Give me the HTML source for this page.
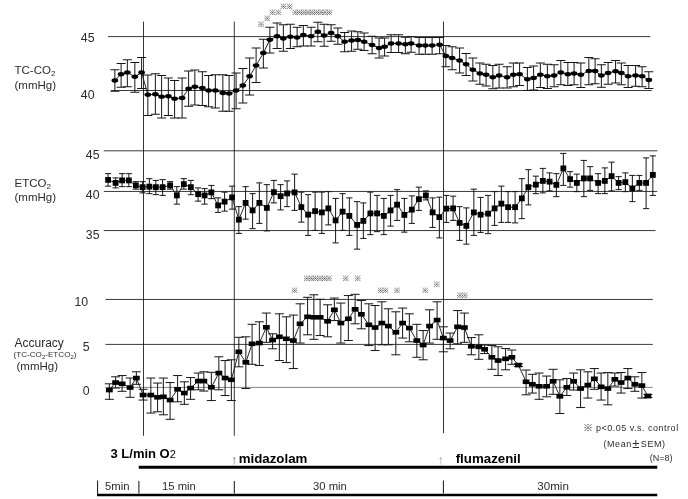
<!DOCTYPE html>
<html><head><meta charset="utf-8"><title>chart</title>
<style>html,body{margin:0;padding:0;background:#fff}svg{display:block}text{font-family:"Liberation Sans","Noto Sans CJK JP",sans-serif;fill:#2b2b2b}.b{font-weight:bold;fill:#000}.j{font-family:"Liberation Sans","IPAGothic","Noto Sans CJK JP",sans-serif}.st{font-family:"Liberation Sans","IPAGothic","Noto Sans CJK JP",sans-serif;fill:#3a3a3a}</style></head><body>
<svg width="688" height="499" viewBox="0 0 688 499">
<rect width="688" height="499" fill="#fff"/>
<line x1="108" y1="36.6" x2="650.25" y2="36.6" stroke="#3a3a3a" stroke-width="1"/>
<line x1="111" y1="90.5" x2="651.75" y2="90.5" stroke="#3a3a3a" stroke-width="1"/>
<line x1="103.75" y1="150.8" x2="657.25" y2="150.8" stroke="#3a3a3a" stroke-width="1"/>
<line x1="103.75" y1="191.45" x2="657.25" y2="191.45" stroke="#3a3a3a" stroke-width="1"/>
<line x1="103.75" y1="230.55" x2="655.5" y2="230.55" stroke="#3a3a3a" stroke-width="1"/>
<line x1="105.5" y1="299.45" x2="652.75" y2="299.45" stroke="#3a3a3a" stroke-width="1"/>
<line x1="105.5" y1="344.4" x2="652.75" y2="344.4" stroke="#3a3a3a" stroke-width="1"/>
<line x1="105.5" y1="387.4" x2="652.75" y2="387.4" stroke="#666" stroke-width="0.8"/>
<line x1="143.5" y1="21.6" x2="143.5" y2="435.75" stroke="#111" stroke-width="0.85"/>
<line x1="234.3" y1="21.6" x2="234.3" y2="435.75" stroke="#111" stroke-width="0.85"/>
<line x1="443.5" y1="21.6" x2="443.5" y2="433.25" stroke="#111" stroke-width="0.85"/>
<polyline points="114.85,80.50 121.10,74.25 127.35,72.50 134.85,76.75 141.60,72.50 147.85,94.75 155.35,94.25 161.60,96.75 168.35,96.25 174.60,98.75 182.10,98.00 188.60,88.75 194.85,86.75 202.35,88.00 208.60,90.50 215.35,90.50 222.85,93.00 229.10,93.50 236.10,90.50 242.85,85.50 249.60,76.25 256.10,65.50 263.35,53.00 269.85,39.75 277.10,36.25 283.35,38.50 290.35,36.75 297.10,37.50 303.35,35.00 311.10,36.25 317.85,31.75 324.10,35.50 331.10,33.00 337.85,36.25 344.60,41.75 351.60,40.50 357.85,40.00 364.10,41.75 372.10,45.00 379.10,48.00 384.60,46.75 391.10,43.50 398.60,43.50 405.35,44.25 411.10,43.50 419.10,45.50 425.35,45.50 432.10,45.50 439.60,44.75 445.85,56.00 452.10,58.00 459.60,60.50 466.10,64.25 472.85,69.75 479.85,73.50 486.10,74.75 492.85,77.25 499.10,75.50 507.10,77.25 513.35,74.75 519.60,74.25 527.35,79.25 533.60,78.00 540.35,74.75 547.35,76.25 554.10,75.50 560.85,72.50 567.85,74.25 574.10,73.50 580.85,74.75 588.85,71.00 595.10,71.00 601.35,75.50 608.10,73.00 615.60,71.25 621.35,73.00 628.10,76.25 635.60,75.50 642.10,76.25 648.85,80.00" fill="none" stroke="#1a1a1a" stroke-width="0.95"/>
<path d="M114.85 69.75V91.25M110.35 69.75h9.0M110.35 91.25h9.0M121.10 63.50V87.25M116.60 63.50h9.0M116.60 87.25h9.0M127.35 59.75V86.75M122.85 59.75h9.0M122.85 86.75h9.0M134.85 62.50V92.25M130.35 62.50h9.0M130.35 92.25h9.0M141.60 57.50V88.50M137.10 57.50h9.0M137.10 88.50h9.0M147.85 75.00V115.50M143.35 75.00h9.0M143.35 115.50h9.0M155.35 73.75V114.25M150.85 73.75h9.0M150.85 114.25h9.0M161.60 75.50V118.00M157.10 75.50h9.0M157.10 118.00h9.0M168.35 78.00V115.50M163.85 78.00h9.0M163.85 115.50h9.0M174.60 80.50V118.00M170.10 80.50h9.0M170.10 118.00h9.0M182.10 78.00V118.00M177.60 78.00h9.0M177.60 118.00h9.0M188.60 71.00V106.25M184.10 71.00h9.0M184.10 106.25h9.0M194.85 70.00V105.00M190.35 70.00h9.0M190.35 105.00h9.0M202.35 71.75V105.50M197.85 71.75h9.0M197.85 105.50h9.0M208.60 75.50V106.75M204.10 75.50h9.0M204.10 106.75h9.0M215.35 74.75V108.00M210.85 74.75h9.0M210.85 108.00h9.0M222.85 74.75V111.25M218.35 74.75h9.0M218.35 111.25h9.0M229.10 75.50V111.25M224.60 75.50h9.0M224.60 111.25h9.0M236.10 73.00V108.75M231.60 73.00h9.0M231.60 108.75h9.0M242.85 68.50V103.00M238.35 68.50h9.0M238.35 103.00h9.0M249.60 58.00V95.00M245.10 58.00h9.0M245.10 95.00h9.0M256.10 48.00V82.50M251.60 48.00h9.0M251.60 82.50h9.0M263.35 39.25V68.00M258.85 39.25h9.0M258.85 68.00h9.0M269.85 27.25V53.00M265.35 27.25h9.0M265.35 53.00h9.0M277.10 23.00V48.50M272.60 23.00h9.0M272.60 48.50h9.0M283.35 24.75V51.25M278.85 24.75h9.0M278.85 51.25h9.0M290.35 24.25V48.50M285.85 24.25h9.0M285.85 48.50h9.0M297.10 27.25V46.75M292.60 27.25h9.0M292.60 46.75h9.0M303.35 25.50V46.00M298.85 25.50h9.0M298.85 46.00h9.0M311.10 27.25V46.00M306.60 27.25h9.0M306.60 46.00h9.0M317.85 22.25V41.75M313.35 22.25h9.0M313.35 41.75h9.0M324.10 24.25V46.25M319.60 24.25h9.0M319.60 46.25h9.0M331.10 24.75V41.25M326.60 24.75h9.0M326.60 41.25h9.0M337.85 28.00V44.25M333.35 28.00h9.0M333.35 44.25h9.0M344.60 32.50V51.75M340.10 32.50h9.0M340.10 51.75h9.0M351.60 31.00V51.25M347.10 31.00h9.0M347.10 51.25h9.0M357.85 31.75V49.25M353.35 31.75h9.0M353.35 49.25h9.0M364.10 33.00V50.50M359.60 33.00h9.0M359.60 50.50h9.0M372.10 36.25V53.75M367.60 36.25h9.0M367.60 53.75h9.0M379.10 38.00V58.00M374.60 38.00h9.0M374.60 58.00h9.0M384.60 38.00V56.00M380.10 38.00h9.0M380.10 56.00h9.0M391.10 34.75V52.50M386.60 34.75h9.0M386.60 52.50h9.0M398.60 34.75V52.50M394.10 34.75h9.0M394.10 52.50h9.0M405.35 37.25V53.75M400.85 37.25h9.0M400.85 53.75h9.0M411.10 36.75V52.25M406.60 36.75h9.0M406.60 52.25h9.0M419.10 37.50V54.25M414.60 37.50h9.0M414.60 54.25h9.0M425.35 37.50V54.25M420.85 37.50h9.0M420.85 54.25h9.0M432.10 37.50V54.25M427.60 37.50h9.0M427.60 54.25h9.0M439.60 37.50V53.75M435.10 37.50h9.0M435.10 53.75h9.0M445.85 45.50V66.75M441.35 45.50h9.0M441.35 66.75h9.0M452.10 46.75V69.75M447.60 46.75h9.0M447.60 69.75h9.0M459.60 48.00V73.00M455.10 48.00h9.0M455.10 73.00h9.0M466.10 53.50V75.50M461.60 53.50h9.0M461.60 75.50h9.0M472.85 58.00V81.00M468.35 58.00h9.0M468.35 81.00h9.0M479.85 63.00V84.25M475.35 63.00h9.0M475.35 84.25h9.0M486.10 64.25V86.00M481.60 64.25h9.0M481.60 86.00h9.0M492.85 65.50V88.75M488.35 65.50h9.0M488.35 88.75h9.0M499.10 64.25V88.00M494.60 64.25h9.0M494.60 88.00h9.0M507.10 66.75V88.00M502.60 66.75h9.0M502.60 88.00h9.0M513.35 63.00V86.75M508.85 63.00h9.0M508.85 86.75h9.0M519.60 63.00V85.50M515.10 63.00h9.0M515.10 85.50h9.0M527.35 67.50V90.50M522.85 67.50h9.0M522.85 90.50h9.0M533.60 66.00V90.00M529.10 66.00h9.0M529.10 90.00h9.0M540.35 63.00V87.50M535.85 63.00h9.0M535.85 87.50h9.0M547.35 64.25V88.50M542.85 64.25h9.0M542.85 88.50h9.0M554.10 64.75V86.75M549.60 64.75h9.0M549.60 86.75h9.0M560.85 60.50V84.75M556.35 60.50h9.0M556.35 84.75h9.0M567.85 62.50V85.50M563.35 62.50h9.0M563.35 85.50h9.0M574.10 62.50V84.75M569.60 62.50h9.0M569.60 84.75h9.0M580.85 63.00V87.50M576.35 63.00h9.0M576.35 87.50h9.0M588.85 57.50V84.75M584.35 57.50h9.0M584.35 84.75h9.0M595.10 58.75V83.75M590.60 58.75h9.0M590.60 83.75h9.0M601.35 64.75V87.25M596.85 64.75h9.0M596.85 87.25h9.0M608.10 62.50V84.25M603.60 62.50h9.0M603.60 84.25h9.0M615.60 60.50V83.00M611.10 60.50h9.0M611.10 83.00h9.0M621.35 63.00V84.75M616.85 63.00h9.0M616.85 84.75h9.0M628.10 65.50V87.50M623.60 65.50h9.0M623.60 87.50h9.0M635.60 65.50V86.25M631.10 65.50h9.0M631.10 86.25h9.0M642.10 66.75V86.75M637.60 66.75h9.0M637.60 86.75h9.0M648.85 71.75V88.50M644.35 71.75h9.0M644.35 88.50h9.0" fill="none" stroke="#151515" stroke-width="1"/>
<ellipse cx="114.85" cy="80.50" rx="3.35" ry="2.15" fill="#000"/>
<ellipse cx="121.10" cy="74.25" rx="3.35" ry="2.15" fill="#000"/>
<ellipse cx="127.35" cy="72.50" rx="3.35" ry="2.15" fill="#000"/>
<ellipse cx="134.85" cy="76.75" rx="3.35" ry="2.15" fill="#000"/>
<ellipse cx="141.60" cy="72.50" rx="3.35" ry="2.15" fill="#000"/>
<ellipse cx="147.85" cy="94.75" rx="3.35" ry="2.15" fill="#000"/>
<ellipse cx="155.35" cy="94.25" rx="3.35" ry="2.15" fill="#000"/>
<ellipse cx="161.60" cy="96.75" rx="3.35" ry="2.15" fill="#000"/>
<ellipse cx="168.35" cy="96.25" rx="3.35" ry="2.15" fill="#000"/>
<ellipse cx="174.60" cy="98.75" rx="3.35" ry="2.15" fill="#000"/>
<ellipse cx="182.10" cy="98.00" rx="3.35" ry="2.15" fill="#000"/>
<ellipse cx="188.60" cy="88.75" rx="3.35" ry="2.15" fill="#000"/>
<ellipse cx="194.85" cy="86.75" rx="3.35" ry="2.15" fill="#000"/>
<ellipse cx="202.35" cy="88.00" rx="3.35" ry="2.15" fill="#000"/>
<ellipse cx="208.60" cy="90.50" rx="3.35" ry="2.15" fill="#000"/>
<ellipse cx="215.35" cy="90.50" rx="3.35" ry="2.15" fill="#000"/>
<ellipse cx="222.85" cy="93.00" rx="3.35" ry="2.15" fill="#000"/>
<ellipse cx="229.10" cy="93.50" rx="3.35" ry="2.15" fill="#000"/>
<ellipse cx="236.10" cy="90.50" rx="3.35" ry="2.15" fill="#000"/>
<ellipse cx="242.85" cy="85.50" rx="3.35" ry="2.15" fill="#000"/>
<ellipse cx="249.60" cy="76.25" rx="3.35" ry="2.15" fill="#000"/>
<ellipse cx="256.10" cy="65.50" rx="3.35" ry="2.15" fill="#000"/>
<ellipse cx="263.35" cy="53.00" rx="3.35" ry="2.15" fill="#000"/>
<ellipse cx="269.85" cy="39.75" rx="3.35" ry="2.15" fill="#000"/>
<ellipse cx="277.10" cy="36.25" rx="3.35" ry="2.15" fill="#000"/>
<ellipse cx="283.35" cy="38.50" rx="3.35" ry="2.15" fill="#000"/>
<ellipse cx="290.35" cy="36.75" rx="3.35" ry="2.15" fill="#000"/>
<ellipse cx="297.10" cy="37.50" rx="3.35" ry="2.15" fill="#000"/>
<ellipse cx="303.35" cy="35.00" rx="3.35" ry="2.15" fill="#000"/>
<ellipse cx="311.10" cy="36.25" rx="3.35" ry="2.15" fill="#000"/>
<ellipse cx="317.85" cy="31.75" rx="3.35" ry="2.15" fill="#000"/>
<ellipse cx="324.10" cy="35.50" rx="3.35" ry="2.15" fill="#000"/>
<ellipse cx="331.10" cy="33.00" rx="3.35" ry="2.15" fill="#000"/>
<ellipse cx="337.85" cy="36.25" rx="3.35" ry="2.15" fill="#000"/>
<ellipse cx="344.60" cy="41.75" rx="3.35" ry="2.15" fill="#000"/>
<ellipse cx="351.60" cy="40.50" rx="3.35" ry="2.15" fill="#000"/>
<ellipse cx="357.85" cy="40.00" rx="3.35" ry="2.15" fill="#000"/>
<ellipse cx="364.10" cy="41.75" rx="3.35" ry="2.15" fill="#000"/>
<ellipse cx="372.10" cy="45.00" rx="3.35" ry="2.15" fill="#000"/>
<ellipse cx="379.10" cy="48.00" rx="3.35" ry="2.15" fill="#000"/>
<ellipse cx="384.60" cy="46.75" rx="3.35" ry="2.15" fill="#000"/>
<ellipse cx="391.10" cy="43.50" rx="3.35" ry="2.15" fill="#000"/>
<ellipse cx="398.60" cy="43.50" rx="3.35" ry="2.15" fill="#000"/>
<ellipse cx="405.35" cy="44.25" rx="3.35" ry="2.15" fill="#000"/>
<ellipse cx="411.10" cy="43.50" rx="3.35" ry="2.15" fill="#000"/>
<ellipse cx="419.10" cy="45.50" rx="3.35" ry="2.15" fill="#000"/>
<ellipse cx="425.35" cy="45.50" rx="3.35" ry="2.15" fill="#000"/>
<ellipse cx="432.10" cy="45.50" rx="3.35" ry="2.15" fill="#000"/>
<ellipse cx="439.60" cy="44.75" rx="3.35" ry="2.15" fill="#000"/>
<ellipse cx="445.85" cy="56.00" rx="3.35" ry="2.15" fill="#000"/>
<ellipse cx="452.10" cy="58.00" rx="3.35" ry="2.15" fill="#000"/>
<ellipse cx="459.60" cy="60.50" rx="3.35" ry="2.15" fill="#000"/>
<ellipse cx="466.10" cy="64.25" rx="3.35" ry="2.15" fill="#000"/>
<ellipse cx="472.85" cy="69.75" rx="3.35" ry="2.15" fill="#000"/>
<ellipse cx="479.85" cy="73.50" rx="3.35" ry="2.15" fill="#000"/>
<ellipse cx="486.10" cy="74.75" rx="3.35" ry="2.15" fill="#000"/>
<ellipse cx="492.85" cy="77.25" rx="3.35" ry="2.15" fill="#000"/>
<ellipse cx="499.10" cy="75.50" rx="3.35" ry="2.15" fill="#000"/>
<ellipse cx="507.10" cy="77.25" rx="3.35" ry="2.15" fill="#000"/>
<ellipse cx="513.35" cy="74.75" rx="3.35" ry="2.15" fill="#000"/>
<ellipse cx="519.60" cy="74.25" rx="3.35" ry="2.15" fill="#000"/>
<ellipse cx="527.35" cy="79.25" rx="3.35" ry="2.15" fill="#000"/>
<ellipse cx="533.60" cy="78.00" rx="3.35" ry="2.15" fill="#000"/>
<ellipse cx="540.35" cy="74.75" rx="3.35" ry="2.15" fill="#000"/>
<ellipse cx="547.35" cy="76.25" rx="3.35" ry="2.15" fill="#000"/>
<ellipse cx="554.10" cy="75.50" rx="3.35" ry="2.15" fill="#000"/>
<ellipse cx="560.85" cy="72.50" rx="3.35" ry="2.15" fill="#000"/>
<ellipse cx="567.85" cy="74.25" rx="3.35" ry="2.15" fill="#000"/>
<ellipse cx="574.10" cy="73.50" rx="3.35" ry="2.15" fill="#000"/>
<ellipse cx="580.85" cy="74.75" rx="3.35" ry="2.15" fill="#000"/>
<ellipse cx="588.85" cy="71.00" rx="3.35" ry="2.15" fill="#000"/>
<ellipse cx="595.10" cy="71.00" rx="3.35" ry="2.15" fill="#000"/>
<ellipse cx="601.35" cy="75.50" rx="3.35" ry="2.15" fill="#000"/>
<ellipse cx="608.10" cy="73.00" rx="3.35" ry="2.15" fill="#000"/>
<ellipse cx="615.60" cy="71.25" rx="3.35" ry="2.15" fill="#000"/>
<ellipse cx="621.35" cy="73.00" rx="3.35" ry="2.15" fill="#000"/>
<ellipse cx="628.10" cy="76.25" rx="3.35" ry="2.15" fill="#000"/>
<ellipse cx="635.60" cy="75.50" rx="3.35" ry="2.15" fill="#000"/>
<ellipse cx="642.10" cy="76.25" rx="3.35" ry="2.15" fill="#000"/>
<ellipse cx="648.85" cy="80.00" rx="3.35" ry="2.15" fill="#000"/>
<polyline points="108.10,179.90 115.60,182.90 122.10,180.40 128.85,180.40 135.85,185.40 142.60,187.15 149.35,186.65 155.85,187.15 162.60,187.15 170.10,185.40 176.85,195.40 183.85,184.15 190.85,187.15 198.10,194.15 204.60,195.40 211.35,192.40 218.10,205.40 224.60,201.65 232.10,197.40 238.85,219.65 245.60,202.90 252.60,210.40 259.35,202.90 266.85,207.90 273.85,192.15 280.60,196.15 287.10,193.40 294.60,192.40 301.35,207.15 308.10,214.65 315.10,211.15 321.85,212.40 328.35,208.40 335.60,220.40 342.60,211.65 349.35,215.90 357.10,224.90 363.35,220.90 370.35,213.40 377.10,213.40 383.85,215.90 390.60,210.40 397.10,204.65 404.35,214.90 411.85,209.65 418.85,199.15 425.85,195.40 432.60,212.40 439.35,217.15 446.35,208.65 453.10,208.40 459.60,222.90 466.35,225.90 473.85,212.40 480.60,214.65 488.10,213.65 494.60,208.40 501.35,203.65 508.10,207.15 515.10,207.15 521.85,198.40 528.35,187.15 535.85,184.65 542.85,180.90 549.60,181.65 556.35,184.90 563.35,168.40 570.10,179.15 576.85,182.90 583.85,178.40 590.10,178.40 598.10,182.90 604.85,180.90 611.60,176.15 618.60,182.90 625.35,182.15 632.35,188.40 639.35,182.90 646.10,182.90 652.85,174.90" fill="none" stroke="#1a1a1a" stroke-width="0.95"/>
<path d="M108.10 173.65V186.15M105.00 173.65h6.2M105.00 186.15h6.2M115.60 177.90V187.90M112.50 177.90h6.2M112.50 187.90h6.2M122.10 173.65V186.65M119.00 173.65h6.2M119.00 186.65h6.2M128.85 173.65V186.65M125.75 173.65h6.2M125.75 186.65h6.2M135.85 181.65V189.15M132.75 181.65h6.2M132.75 189.15h6.2M142.60 181.65V192.90M139.50 181.65h6.2M139.50 192.90h6.2M149.35 178.65V193.65M146.25 178.65h6.2M146.25 193.65h6.2M155.85 180.40V194.65M152.75 180.40h6.2M152.75 194.65h6.2M162.60 179.65V195.40M159.50 179.65h6.2M159.50 195.40h6.2M170.10 181.65V189.15M167.00 181.65h6.2M167.00 189.15h6.2M176.85 186.65V204.15M173.75 186.65h6.2M173.75 204.15h6.2M183.85 178.65V189.15M180.75 178.65h6.2M180.75 189.15h6.2M190.85 180.40V194.65M187.75 180.40h6.2M187.75 194.65h6.2M198.10 187.90V201.15M195.00 187.90h6.2M195.00 201.15h6.2M204.60 188.65V204.15M201.50 188.65h6.2M201.50 204.15h6.2M211.35 185.40V198.65M208.25 185.40h6.2M208.25 198.65h6.2M218.10 197.90V212.40M215.00 197.90h6.2M215.00 212.40h6.2M224.60 192.15V211.15M221.50 192.15h6.2M221.50 211.15h6.2M232.10 186.15V209.15M229.00 186.15h6.2M229.00 209.15h6.2M238.85 206.65V233.40M235.75 206.65h6.2M235.75 233.40h6.2M245.60 186.65V219.15M242.50 186.65h6.2M242.50 219.15h6.2M252.60 193.65V228.65M249.50 193.65h6.2M249.50 228.65h6.2M259.35 182.90V223.40M256.25 182.90h6.2M256.25 223.40h6.2M266.85 184.65V230.90M263.75 184.65h6.2M263.75 230.90h6.2M273.85 180.40V202.90M270.75 180.40h6.2M270.75 202.90h6.2M280.60 184.65V209.90M277.50 184.65h6.2M277.50 209.90h6.2M287.10 180.90V206.65M284.00 180.90h6.2M284.00 206.65h6.2M294.60 174.15V210.40M291.50 174.15h6.2M291.50 210.40h6.2M301.35 192.15V222.15M298.25 192.15h6.2M298.25 222.15h6.2M308.10 194.65V235.40M305.00 194.65h6.2M305.00 235.40h6.2M315.10 192.15V230.40M312.00 192.15h6.2M312.00 230.40h6.2M321.85 192.15V233.40M318.75 192.15h6.2M318.75 233.40h6.2M328.35 191.65V224.90M325.25 191.65h6.2M325.25 224.90h6.2M335.60 198.40V242.90M332.50 198.40h6.2M332.50 242.90h6.2M342.60 193.65V230.40M339.50 193.65h6.2M339.50 230.40h6.2M349.35 197.90V235.40M346.25 197.90h6.2M346.25 235.40h6.2M357.10 201.65V249.15M354.00 201.65h6.2M354.00 249.15h6.2M363.35 202.90V238.40M360.25 202.90h6.2M360.25 238.40h6.2M370.35 192.15V234.65M367.25 192.15h6.2M367.25 234.65h6.2M377.10 195.40V231.65M374.00 195.40h6.2M374.00 231.65h6.2M383.85 198.40V234.65M380.75 198.40h6.2M380.75 234.65h6.2M390.60 195.40V226.15M387.50 195.40h6.2M387.50 226.15h6.2M397.10 189.65V220.40M394.00 189.65h6.2M394.00 220.40h6.2M404.35 198.40V232.15M401.25 198.40h6.2M401.25 232.15h6.2M411.85 195.90V223.40M408.75 195.90h6.2M408.75 223.40h6.2M418.85 187.15V210.40M415.75 187.15h6.2M415.75 210.40h6.2M425.85 190.90V199.90M422.75 190.90h6.2M422.75 199.90h6.2M432.60 197.90V227.40M429.50 197.90h6.2M429.50 227.40h6.2M439.35 197.15V237.90M436.25 197.15h6.2M436.25 237.90h6.2M446.35 195.40V222.40M443.25 195.40h6.2M443.25 222.40h6.2M453.10 196.15V220.40M450.00 196.15h6.2M450.00 220.40h6.2M459.60 206.65V240.40M456.50 206.65h6.2M456.50 240.40h6.2M466.35 207.90V244.15M463.25 207.90h6.2M463.25 244.15h6.2M473.85 189.15V235.40M470.75 189.15h6.2M470.75 235.40h6.2M480.60 197.40V232.40M477.50 197.40h6.2M477.50 232.40h6.2M488.10 195.40V233.65M485.00 195.40h6.2M485.00 233.65h6.2M494.60 191.65V225.40M491.50 191.65h6.2M491.50 225.40h6.2M501.35 186.15V222.40M498.25 186.15h6.2M498.25 222.40h6.2M508.10 191.65V222.40M505.00 191.65h6.2M505.00 222.40h6.2M515.10 191.65V222.90M512.00 191.65h6.2M512.00 222.90h6.2M521.85 178.65V218.65M518.75 178.65h6.2M518.75 218.65h6.2M528.35 169.65V204.90M525.25 169.65h6.2M525.25 204.90h6.2M535.85 176.15V193.65M532.75 176.15h6.2M532.75 193.65h6.2M542.85 168.40V192.90M539.75 168.40h6.2M539.75 192.90h6.2M549.60 172.90V190.90M546.50 172.90h6.2M546.50 190.90h6.2M556.35 173.65V196.65M553.25 173.65h6.2M553.25 196.65h6.2M563.35 153.40V185.40M560.25 153.40h6.2M560.25 185.40h6.2M570.10 171.65V187.15M567.00 171.65h6.2M567.00 187.15h6.2M576.85 174.15V191.65M573.75 174.15h6.2M573.75 191.65h6.2M583.85 160.40V196.65M580.75 160.40h6.2M580.75 196.65h6.2M590.10 166.65V190.40M587.00 166.65h6.2M587.00 190.40h6.2M598.10 173.65V193.65M595.00 173.65h6.2M595.00 193.65h6.2M604.85 167.90V193.65M601.75 167.90h6.2M601.75 193.65h6.2M611.60 162.15V190.90M608.50 162.15h6.2M608.50 190.90h6.2M618.60 176.65V189.65M615.50 176.65h6.2M615.50 189.65h6.2M625.35 172.90V191.65M622.25 172.90h6.2M622.25 191.65h6.2M632.35 175.40V201.65M629.25 175.40h6.2M629.25 201.65h6.2M639.35 175.40V190.40M636.25 175.40h6.2M636.25 190.40h6.2M646.10 157.90V208.65M643.00 157.90h6.2M643.00 208.65h6.2M652.85 155.90V195.40M649.75 155.90h6.2M649.75 195.40h6.2" fill="none" stroke="#151515" stroke-width="1"/>
<rect x="105.20" y="177.00" width="5.8" height="5.8" fill="#000"/>
<rect x="112.70" y="180.00" width="5.8" height="5.8" fill="#000"/>
<rect x="119.20" y="177.50" width="5.8" height="5.8" fill="#000"/>
<rect x="125.95" y="177.50" width="5.8" height="5.8" fill="#000"/>
<rect x="132.95" y="182.50" width="5.8" height="5.8" fill="#000"/>
<rect x="139.70" y="184.25" width="5.8" height="5.8" fill="#000"/>
<rect x="146.45" y="183.75" width="5.8" height="5.8" fill="#000"/>
<rect x="152.95" y="184.25" width="5.8" height="5.8" fill="#000"/>
<rect x="159.70" y="184.25" width="5.8" height="5.8" fill="#000"/>
<rect x="167.20" y="182.50" width="5.8" height="5.8" fill="#000"/>
<rect x="173.95" y="192.50" width="5.8" height="5.8" fill="#000"/>
<rect x="180.95" y="181.25" width="5.8" height="5.8" fill="#000"/>
<rect x="187.95" y="184.25" width="5.8" height="5.8" fill="#000"/>
<rect x="195.20" y="191.25" width="5.8" height="5.8" fill="#000"/>
<rect x="201.70" y="192.50" width="5.8" height="5.8" fill="#000"/>
<rect x="208.45" y="189.50" width="5.8" height="5.8" fill="#000"/>
<rect x="215.20" y="202.50" width="5.8" height="5.8" fill="#000"/>
<rect x="221.70" y="198.75" width="5.8" height="5.8" fill="#000"/>
<rect x="229.20" y="194.50" width="5.8" height="5.8" fill="#000"/>
<rect x="235.95" y="216.75" width="5.8" height="5.8" fill="#000"/>
<rect x="242.70" y="200.00" width="5.8" height="5.8" fill="#000"/>
<rect x="249.70" y="207.50" width="5.8" height="5.8" fill="#000"/>
<rect x="256.45" y="200.00" width="5.8" height="5.8" fill="#000"/>
<rect x="263.95" y="205.00" width="5.8" height="5.8" fill="#000"/>
<rect x="270.95" y="189.25" width="5.8" height="5.8" fill="#000"/>
<rect x="277.70" y="193.25" width="5.8" height="5.8" fill="#000"/>
<rect x="284.20" y="190.50" width="5.8" height="5.8" fill="#000"/>
<rect x="291.70" y="189.50" width="5.8" height="5.8" fill="#000"/>
<rect x="298.45" y="204.25" width="5.8" height="5.8" fill="#000"/>
<rect x="305.20" y="211.75" width="5.8" height="5.8" fill="#000"/>
<rect x="312.20" y="208.25" width="5.8" height="5.8" fill="#000"/>
<rect x="318.95" y="209.50" width="5.8" height="5.8" fill="#000"/>
<rect x="325.45" y="205.50" width="5.8" height="5.8" fill="#000"/>
<rect x="332.70" y="217.50" width="5.8" height="5.8" fill="#000"/>
<rect x="339.70" y="208.75" width="5.8" height="5.8" fill="#000"/>
<rect x="346.45" y="213.00" width="5.8" height="5.8" fill="#000"/>
<rect x="354.20" y="222.00" width="5.8" height="5.8" fill="#000"/>
<rect x="360.45" y="218.00" width="5.8" height="5.8" fill="#000"/>
<rect x="367.45" y="210.50" width="5.8" height="5.8" fill="#000"/>
<rect x="374.20" y="210.50" width="5.8" height="5.8" fill="#000"/>
<rect x="380.95" y="213.00" width="5.8" height="5.8" fill="#000"/>
<rect x="387.70" y="207.50" width="5.8" height="5.8" fill="#000"/>
<rect x="394.20" y="201.75" width="5.8" height="5.8" fill="#000"/>
<rect x="401.45" y="212.00" width="5.8" height="5.8" fill="#000"/>
<rect x="408.95" y="206.75" width="5.8" height="5.8" fill="#000"/>
<rect x="415.95" y="196.25" width="5.8" height="5.8" fill="#000"/>
<rect x="422.95" y="192.50" width="5.8" height="5.8" fill="#000"/>
<rect x="429.70" y="209.50" width="5.8" height="5.8" fill="#000"/>
<rect x="436.45" y="214.25" width="5.8" height="5.8" fill="#000"/>
<rect x="443.45" y="205.75" width="5.8" height="5.8" fill="#000"/>
<rect x="450.20" y="205.50" width="5.8" height="5.8" fill="#000"/>
<rect x="456.70" y="220.00" width="5.8" height="5.8" fill="#000"/>
<rect x="463.45" y="223.00" width="5.8" height="5.8" fill="#000"/>
<rect x="470.95" y="209.50" width="5.8" height="5.8" fill="#000"/>
<rect x="477.70" y="211.75" width="5.8" height="5.8" fill="#000"/>
<rect x="485.20" y="210.75" width="5.8" height="5.8" fill="#000"/>
<rect x="491.70" y="205.50" width="5.8" height="5.8" fill="#000"/>
<rect x="498.45" y="200.75" width="5.8" height="5.8" fill="#000"/>
<rect x="505.20" y="204.25" width="5.8" height="5.8" fill="#000"/>
<rect x="512.20" y="204.25" width="5.8" height="5.8" fill="#000"/>
<rect x="518.95" y="195.50" width="5.8" height="5.8" fill="#000"/>
<rect x="525.45" y="184.25" width="5.8" height="5.8" fill="#000"/>
<rect x="532.95" y="181.75" width="5.8" height="5.8" fill="#000"/>
<rect x="539.95" y="178.00" width="5.8" height="5.8" fill="#000"/>
<rect x="546.70" y="178.75" width="5.8" height="5.8" fill="#000"/>
<rect x="553.45" y="182.00" width="5.8" height="5.8" fill="#000"/>
<rect x="560.45" y="165.50" width="5.8" height="5.8" fill="#000"/>
<rect x="567.20" y="176.25" width="5.8" height="5.8" fill="#000"/>
<rect x="573.95" y="180.00" width="5.8" height="5.8" fill="#000"/>
<rect x="580.95" y="175.50" width="5.8" height="5.8" fill="#000"/>
<rect x="587.20" y="175.50" width="5.8" height="5.8" fill="#000"/>
<rect x="595.20" y="180.00" width="5.8" height="5.8" fill="#000"/>
<rect x="601.95" y="178.00" width="5.8" height="5.8" fill="#000"/>
<rect x="608.70" y="173.25" width="5.8" height="5.8" fill="#000"/>
<rect x="615.70" y="180.00" width="5.8" height="5.8" fill="#000"/>
<rect x="622.45" y="179.25" width="5.8" height="5.8" fill="#000"/>
<rect x="629.45" y="185.50" width="5.8" height="5.8" fill="#000"/>
<rect x="636.45" y="180.00" width="5.8" height="5.8" fill="#000"/>
<rect x="643.20" y="180.00" width="5.8" height="5.8" fill="#000"/>
<rect x="649.95" y="172.00" width="5.8" height="5.8" fill="#000"/>
<polyline points="109.35,390.05 115.60,382.55 122.10,383.80 130.10,387.55 136.35,378.05 143.10,395.05 150.85,395.05 157.60,397.30 163.35,396.80 170.10,400.05 177.60,389.30 184.35,393.05 190.60,388.05 198.35,381.05 203.85,381.05 211.35,387.30 218.85,373.05 225.10,378.05 231.35,379.80 238.85,351.80 245.85,362.30 252.10,343.80 259.35,343.05 266.35,327.30 272.60,340.05 279.35,336.80 286.35,338.80 293.35,340.55 300.10,323.80 307.60,316.80 313.85,317.30 320.10,317.30 327.60,321.30 334.35,309.80 340.85,323.05 348.35,318.80 355.10,309.30 361.35,314.30 368.85,324.80 375.10,327.55 381.85,323.05 388.35,326.05 395.85,332.30 402.60,323.05 409.35,328.05 416.85,340.55 423.10,345.05 429.60,326.05 437.10,320.05 443.35,338.05 450.10,340.55 457.60,326.80 464.35,327.55 471.35,346.30 478.85,346.80 484.60,349.30 491.85,357.30 498.10,360.55 505.60,358.80 511.85,357.30 518.35,365.05 526.10,381.80 532.35,384.30 539.10,386.30 546.60,386.30 553.10,381.30 559.85,396.30 566.85,387.30 573.60,381.30 580.60,388.55 587.85,385.05 594.35,378.80 601.10,386.80 607.85,388.55 614.85,379.30 621.10,382.55 627.85,378.05 634.85,384.30 641.85,385.55 647.85,396.05" fill="none" stroke="#1a1a1a" stroke-width="0.95"/>
<path d="M109.35 383.80V399.30M104.85 383.80h9.0M104.85 399.30h9.0M115.60 376.80V388.05M111.10 376.80h9.0M111.10 388.05h9.0M122.10 375.55V391.30M117.60 375.55h9.0M117.60 391.30h9.0M130.10 378.05V397.30M125.60 378.05h9.0M125.60 397.30h9.0M136.35 371.80V384.30M131.85 371.80h9.0M131.85 384.30h9.0M143.10 389.30V400.05M138.60 389.30h9.0M138.60 400.05h9.0M150.85 378.05V413.05M146.35 378.05h9.0M146.35 413.05h9.0M157.60 383.05V411.80M153.10 383.05h9.0M153.10 411.80h9.0M163.35 378.05V414.80M158.85 378.05h9.0M158.85 414.80h9.0M170.10 382.55V419.30M165.60 382.55h9.0M165.60 419.30h9.0M177.60 375.55V401.80M173.10 375.55h9.0M173.10 401.80h9.0M184.35 381.80V404.30M179.85 381.80h9.0M179.85 404.30h9.0M190.60 377.55V399.30M186.10 377.55h9.0M186.10 399.30h9.0M198.35 373.05V389.80M193.85 373.05h9.0M193.85 389.80h9.0M203.85 371.80V391.05M199.35 371.80h9.0M199.35 391.05h9.0M211.35 372.30V400.55M206.85 372.30h9.0M206.85 400.55h9.0M218.85 356.80V389.80M214.35 356.80h9.0M214.35 389.80h9.0M225.10 360.55V395.55M220.60 360.55h9.0M220.60 395.55h9.0M231.35 359.80V400.55M226.85 359.80h9.0M226.85 400.55h9.0M238.85 337.30V366.80M234.35 337.30h9.0M234.35 366.80h9.0M245.85 336.80V388.55M241.35 336.80h9.0M241.35 388.55h9.0M252.10 324.30V364.30M247.60 324.30h9.0M247.60 364.30h9.0M259.35 321.80V365.55M254.85 321.80h9.0M254.85 365.55h9.0M266.35 313.05V342.30M261.85 313.05h9.0M261.85 342.30h9.0M272.60 333.80V348.80M268.10 333.80h9.0M268.10 348.80h9.0M279.35 313.80V360.55M274.85 313.80h9.0M274.85 360.55h9.0M286.35 316.80V362.55M281.85 316.80h9.0M281.85 362.55h9.0M293.35 315.05V368.55M288.85 315.05h9.0M288.85 368.55h9.0M300.10 303.80V343.05M295.60 303.80h9.0M295.60 343.05h9.0M307.60 297.30V334.80M303.10 297.30h9.0M303.10 334.80h9.0M313.85 294.80V339.30M309.35 294.80h9.0M309.35 339.30h9.0M320.10 299.30V335.55M315.60 299.30h9.0M315.60 335.55h9.0M327.60 304.80V336.80M323.10 304.80h9.0M323.10 336.80h9.0M334.35 298.05V320.55M329.85 298.05h9.0M329.85 320.55h9.0M340.85 303.05V343.05M336.35 303.05h9.0M336.35 343.05h9.0M348.35 295.55V340.55M343.85 295.55h9.0M343.85 340.55h9.0M355.10 294.30V323.80M350.60 294.30h9.0M350.60 323.80h9.0M361.35 300.55V328.80M356.85 300.55h9.0M356.85 328.80h9.0M368.85 303.80V345.55M364.35 303.80h9.0M364.35 345.55h9.0M375.10 305.55V350.55M370.60 305.55h9.0M370.60 350.55h9.0M381.85 301.80V344.80M377.35 301.80h9.0M377.35 344.80h9.0M388.35 308.80V344.80M383.85 308.80h9.0M383.85 344.80h9.0M395.85 311.80V354.80M391.35 311.80h9.0M391.35 354.80h9.0M402.60 308.05V338.05M398.10 308.05h9.0M398.10 338.05h9.0M409.35 313.80V341.80M404.85 313.80h9.0M404.85 341.80h9.0M416.85 324.30V357.30M412.35 324.30h9.0M412.35 357.30h9.0M423.10 330.55V359.80M418.60 330.55h9.0M418.60 359.80h9.0M429.60 309.80V343.05M425.10 309.80h9.0M425.10 343.05h9.0M437.10 301.80V339.30M432.60 301.80h9.0M432.60 339.30h9.0M443.35 326.80V351.80M438.85 326.80h9.0M438.85 351.80h9.0M450.10 333.05V348.80M445.60 333.05h9.0M445.60 348.80h9.0M457.60 310.55V343.80M453.10 310.55h9.0M453.10 343.80h9.0M464.35 313.05V342.30M459.85 313.05h9.0M459.85 342.30h9.0M471.35 337.55V354.80M466.85 337.55h9.0M466.85 354.80h9.0M478.85 334.80V359.30M474.35 334.80h9.0M474.35 359.30h9.0M484.60 345.05V353.55M480.10 345.05h9.0M480.10 353.55h9.0M491.85 345.55V369.30M487.35 345.55h9.0M487.35 369.30h9.0M498.10 346.80V375.55M493.60 346.80h9.0M493.60 375.55h9.0M505.60 348.55V369.80M501.10 348.55h9.0M501.10 369.80h9.0M511.85 350.05V364.30M507.35 350.05h9.0M507.35 364.30h9.0M518.35 363.80V366.55M513.85 363.80h9.0M513.85 366.55h9.0M526.10 370.05V394.80M521.60 370.05h9.0M521.60 394.80h9.0M532.35 374.30V393.05M527.85 374.30h9.0M527.85 393.05h9.0M539.10 373.05V399.30M534.60 373.05h9.0M534.60 399.30h9.0M546.60 376.05V396.80M542.10 376.05h9.0M542.10 396.80h9.0M553.10 369.30V394.30M548.60 369.30h9.0M548.60 394.30h9.0M559.85 379.80V413.55M555.35 379.80h9.0M555.35 413.55h9.0M566.85 378.55V395.55M562.35 378.55h9.0M562.35 395.55h9.0M573.60 373.05V390.05M569.10 373.05h9.0M569.10 390.05h9.0M580.60 369.80V407.55M576.10 369.80h9.0M576.10 407.55h9.0M587.85 371.80V398.05M583.35 371.80h9.0M583.35 398.05h9.0M594.35 368.55V389.30M589.85 368.55h9.0M589.85 389.30h9.0M601.10 373.05V400.05M596.60 373.05h9.0M596.60 400.05h9.0M607.85 372.55V404.80M603.35 372.55h9.0M603.35 404.80h9.0M614.85 373.05V386.05M610.35 373.05h9.0M610.35 386.05h9.0M621.10 372.55V393.05M616.60 372.55h9.0M616.60 393.05h9.0M627.85 368.55V388.55M623.35 368.55h9.0M623.35 388.55h9.0M634.85 376.80V391.30M630.35 376.80h9.0M630.35 391.30h9.0M641.85 372.55V398.05M637.35 372.55h9.0M637.35 398.05h9.0M647.85 394.30V397.55M643.35 394.30h9.0M643.35 397.55h9.0" fill="none" stroke="#151515" stroke-width="1"/>
<rect x="105.95" y="387.75" width="6.8" height="4.6" fill="#000"/>
<rect x="112.20" y="380.25" width="6.8" height="4.6" fill="#000"/>
<rect x="118.70" y="381.50" width="6.8" height="4.6" fill="#000"/>
<rect x="126.70" y="385.25" width="6.8" height="4.6" fill="#000"/>
<rect x="132.95" y="375.75" width="6.8" height="4.6" fill="#000"/>
<rect x="139.70" y="392.75" width="6.8" height="4.6" fill="#000"/>
<rect x="147.45" y="392.75" width="6.8" height="4.6" fill="#000"/>
<rect x="154.20" y="395.00" width="6.8" height="4.6" fill="#000"/>
<rect x="159.95" y="394.50" width="6.8" height="4.6" fill="#000"/>
<rect x="166.70" y="397.75" width="6.8" height="4.6" fill="#000"/>
<rect x="174.20" y="387.00" width="6.8" height="4.6" fill="#000"/>
<rect x="180.95" y="390.75" width="6.8" height="4.6" fill="#000"/>
<rect x="187.20" y="385.75" width="6.8" height="4.6" fill="#000"/>
<rect x="194.95" y="378.75" width="6.8" height="4.6" fill="#000"/>
<rect x="200.45" y="378.75" width="6.8" height="4.6" fill="#000"/>
<rect x="207.95" y="385.00" width="6.8" height="4.6" fill="#000"/>
<rect x="215.45" y="370.75" width="6.8" height="4.6" fill="#000"/>
<rect x="221.70" y="375.75" width="6.8" height="4.6" fill="#000"/>
<rect x="227.95" y="377.50" width="6.8" height="4.6" fill="#000"/>
<rect x="235.45" y="349.50" width="6.8" height="4.6" fill="#000"/>
<rect x="242.45" y="360.00" width="6.8" height="4.6" fill="#000"/>
<rect x="248.70" y="341.50" width="6.8" height="4.6" fill="#000"/>
<rect x="255.95" y="340.75" width="6.8" height="4.6" fill="#000"/>
<rect x="262.95" y="325.00" width="6.8" height="4.6" fill="#000"/>
<rect x="269.20" y="337.75" width="6.8" height="4.6" fill="#000"/>
<rect x="275.95" y="334.50" width="6.8" height="4.6" fill="#000"/>
<rect x="282.95" y="336.50" width="6.8" height="4.6" fill="#000"/>
<rect x="289.95" y="338.25" width="6.8" height="4.6" fill="#000"/>
<rect x="296.70" y="321.50" width="6.8" height="4.6" fill="#000"/>
<rect x="304.20" y="314.50" width="6.8" height="4.6" fill="#000"/>
<rect x="310.45" y="315.00" width="6.8" height="4.6" fill="#000"/>
<rect x="316.70" y="315.00" width="6.8" height="4.6" fill="#000"/>
<rect x="324.20" y="319.00" width="6.8" height="4.6" fill="#000"/>
<rect x="330.95" y="307.50" width="6.8" height="4.6" fill="#000"/>
<rect x="337.45" y="320.75" width="6.8" height="4.6" fill="#000"/>
<rect x="344.95" y="316.50" width="6.8" height="4.6" fill="#000"/>
<rect x="351.70" y="307.00" width="6.8" height="4.6" fill="#000"/>
<rect x="357.95" y="312.00" width="6.8" height="4.6" fill="#000"/>
<rect x="365.45" y="322.50" width="6.8" height="4.6" fill="#000"/>
<rect x="371.70" y="325.25" width="6.8" height="4.6" fill="#000"/>
<rect x="378.45" y="320.75" width="6.8" height="4.6" fill="#000"/>
<rect x="384.95" y="323.75" width="6.8" height="4.6" fill="#000"/>
<rect x="392.45" y="330.00" width="6.8" height="4.6" fill="#000"/>
<rect x="399.20" y="320.75" width="6.8" height="4.6" fill="#000"/>
<rect x="405.95" y="325.75" width="6.8" height="4.6" fill="#000"/>
<rect x="413.45" y="338.25" width="6.8" height="4.6" fill="#000"/>
<rect x="419.70" y="342.75" width="6.8" height="4.6" fill="#000"/>
<rect x="426.20" y="323.75" width="6.8" height="4.6" fill="#000"/>
<rect x="433.70" y="317.75" width="6.8" height="4.6" fill="#000"/>
<rect x="439.95" y="335.75" width="6.8" height="4.6" fill="#000"/>
<rect x="446.70" y="338.25" width="6.8" height="4.6" fill="#000"/>
<rect x="454.20" y="324.50" width="6.8" height="4.6" fill="#000"/>
<rect x="460.95" y="325.25" width="6.8" height="4.6" fill="#000"/>
<rect x="467.95" y="344.00" width="6.8" height="4.6" fill="#000"/>
<rect x="475.45" y="344.50" width="6.8" height="4.6" fill="#000"/>
<rect x="481.20" y="347.00" width="6.8" height="4.6" fill="#000"/>
<rect x="488.45" y="355.00" width="6.8" height="4.6" fill="#000"/>
<rect x="494.70" y="358.25" width="6.8" height="4.6" fill="#000"/>
<rect x="502.20" y="356.50" width="6.8" height="4.6" fill="#000"/>
<rect x="508.45" y="355.00" width="6.8" height="4.6" fill="#000"/>
<rect x="514.95" y="362.75" width="6.8" height="4.6" fill="#000"/>
<rect x="522.70" y="379.50" width="6.8" height="4.6" fill="#000"/>
<rect x="528.95" y="382.00" width="6.8" height="4.6" fill="#000"/>
<rect x="535.70" y="384.00" width="6.8" height="4.6" fill="#000"/>
<rect x="543.20" y="384.00" width="6.8" height="4.6" fill="#000"/>
<rect x="549.70" y="379.00" width="6.8" height="4.6" fill="#000"/>
<rect x="556.45" y="394.00" width="6.8" height="4.6" fill="#000"/>
<rect x="563.45" y="385.00" width="6.8" height="4.6" fill="#000"/>
<rect x="570.20" y="379.00" width="6.8" height="4.6" fill="#000"/>
<rect x="577.20" y="386.25" width="6.8" height="4.6" fill="#000"/>
<rect x="584.45" y="382.75" width="6.8" height="4.6" fill="#000"/>
<rect x="590.95" y="376.50" width="6.8" height="4.6" fill="#000"/>
<rect x="597.70" y="384.50" width="6.8" height="4.6" fill="#000"/>
<rect x="604.45" y="386.25" width="6.8" height="4.6" fill="#000"/>
<rect x="611.45" y="377.00" width="6.8" height="4.6" fill="#000"/>
<rect x="617.70" y="380.25" width="6.8" height="4.6" fill="#000"/>
<rect x="624.45" y="375.75" width="6.8" height="4.6" fill="#000"/>
<rect x="631.45" y="382.00" width="6.8" height="4.6" fill="#000"/>
<rect x="638.45" y="383.25" width="6.8" height="4.6" fill="#000"/>
<rect x="644.45" y="393.75" width="6.8" height="4.6" fill="#000"/>
<text class="st" x="260.9" y="26.5" font-size="7.0" text-anchor="middle">※</text>
<text class="st" x="267.2" y="20.7" font-size="7.0" text-anchor="middle">※</text>
<text class="st" x="272.5" y="14.9" font-size="7.0" text-anchor="middle">※</text>
<text class="st" x="278.3" y="14.9" font-size="7.0" text-anchor="middle">※</text>
<text class="st" x="283.4" y="9.0" font-size="7.0" text-anchor="middle">※</text>
<text class="st" x="289.5" y="9.0" font-size="7.0" text-anchor="middle">※</text>
<text class="st" x="295.2" y="14.9" font-size="7.0" text-anchor="middle">※</text>
<text class="st" x="299.5" y="14.9" font-size="7.0" text-anchor="middle">※</text>
<text class="st" x="303.7" y="14.9" font-size="7.0" text-anchor="middle">※</text>
<text class="st" x="308.0" y="14.9" font-size="7.0" text-anchor="middle">※</text>
<text class="st" x="312.3" y="14.9" font-size="7.0" text-anchor="middle">※</text>
<text class="st" x="316.6" y="14.9" font-size="7.0" text-anchor="middle">※</text>
<text class="st" x="320.8" y="14.9" font-size="7.0" text-anchor="middle">※</text>
<text class="st" x="325.1" y="14.9" font-size="7.0" text-anchor="middle">※</text>
<text class="st" x="329.4" y="14.9" font-size="7.0" text-anchor="middle">※</text>
<text class="st" x="306.7" y="281.4" font-size="7.0" text-anchor="middle">※</text>
<text class="st" x="311.2" y="281.4" font-size="7.0" text-anchor="middle">※</text>
<text class="st" x="315.6" y="281.4" font-size="7.0" text-anchor="middle">※</text>
<text class="st" x="320.1" y="281.4" font-size="7.0" text-anchor="middle">※</text>
<text class="st" x="324.5" y="281.4" font-size="7.0" text-anchor="middle">※</text>
<text class="st" x="329.0" y="281.4" font-size="7.0" text-anchor="middle">※</text>
<text class="st" x="345.7" y="281.4" font-size="7.0" text-anchor="middle">※</text>
<text class="st" x="357.7" y="281.4" font-size="7.0" text-anchor="middle">※</text>
<text class="st" x="294.5" y="292.7" font-size="7.0" text-anchor="middle">※</text>
<text class="st" x="380.5" y="292.7" font-size="7.0" text-anchor="middle">※</text>
<text class="st" x="385.6" y="292.7" font-size="7.0" text-anchor="middle">※</text>
<text class="st" x="397.0" y="292.7" font-size="7.0" text-anchor="middle">※</text>
<text class="st" x="425.3" y="292.7" font-size="7.0" text-anchor="middle">※</text>
<text class="st" x="436.7" y="286.7" font-size="7.0" text-anchor="middle">※</text>
<text class="st" x="459.9" y="298.1" font-size="7.0" text-anchor="middle">※</text>
<text class="st" x="464.8" y="298.1" font-size="7.0" text-anchor="middle">※</text>
<text x="94.5" y="41.6" font-size="12.3" text-anchor="end">45</text>
<text x="94.5" y="98.6" font-size="12.3" text-anchor="end">40</text>
<text x="99.5" y="158.8" font-size="12.3" text-anchor="end">45</text>
<text x="99.5" y="198.7" font-size="12.3" text-anchor="end">40</text>
<text x="99.5" y="238.7" font-size="12.3" text-anchor="end">35</text>
<text x="88.2" y="306.3" font-size="12.3" text-anchor="end">10</text>
<text x="89.5" y="350.5" font-size="12.3" text-anchor="end">5</text>
<text x="89.5" y="394.5" font-size="12.3" text-anchor="end">0</text>
<text x="14.5" y="74" font-size="11.5" text-anchor="start">TC-CO<tspan font-size="8" dy="2">2</tspan></text>
<text x="14.5" y="88.5" font-size="11.5" text-anchor="start">(mmHg)</text>
<text x="14.5" y="187.1" font-size="11.5" text-anchor="start">ETCO<tspan font-size="8" dy="2">2</tspan></text>
<text x="14.5" y="201" font-size="11.5" text-anchor="start">(mmHg)</text>
<text x="14.5" y="347" font-size="12" text-anchor="start">Accuracy</text>
<text x="13.6" y="357.3" font-size="8.1" text-anchor="start">(TC-CO<tspan font-size="6" dy="1.2">2</tspan><tspan dy="-1.2">-ETCO</tspan><tspan font-size="6" dy="1.2">2</tspan><tspan dy="-1.2">)</tspan></text>
<text x="16.5" y="370" font-size="11.5" text-anchor="start">(mmHg)</text>
<text class="b" x="110.5" y="458" font-size="13.0" text-anchor="start">3 L/min O<tspan font-size="11" font-weight="normal">2</tspan></text>
<text class="b" x="238.7" y="463.2" font-size="13.3" text-anchor="start">midazolam</text>
<text class="b" x="455.7" y="463.2" font-size="13.3" text-anchor="start">flumazenil</text>
<path d="M234.3 464.5V457.5M233 459.3L234.3 457.3L235.6 459.3" fill="none" stroke="#888" stroke-width="0.7"/>
<path d="M440.8 464.5V457.5M439.5 459.3L440.8 457.3L442.1 459.3" fill="none" stroke="#aaa" stroke-width="0.7"/>
<line x1="138.75" y1="467.2" x2="657.25" y2="467.2" stroke="#000" stroke-width="3"/>
<line x1="97" y1="495" x2="657.25" y2="495" stroke="#000" stroke-width="2.6"/>
<line x1="97.6" y1="480.5" x2="97.6" y2="495" stroke="#111" stroke-width="1"/>
<line x1="138.9" y1="481" x2="138.9" y2="493.5" stroke="#111" stroke-width="1"/>
<line x1="234.3" y1="481" x2="234.3" y2="493.5" stroke="#111" stroke-width="1"/>
<line x1="443.4" y1="480.5" x2="443.4" y2="493.5" stroke="#111" stroke-width="1"/>
<text x="105" y="490" font-size="11.3" text-anchor="start">5min</text>
<text x="162" y="490" font-size="11.3" text-anchor="start">15 min</text>
<text x="313" y="490" font-size="11.3" text-anchor="start">30 min</text>
<text x="537.3" y="490" font-size="11.6" text-anchor="start">30min</text>
<text class="j" x="583.5" y="431.3" font-size="9" text-anchor="start" letter-spacing="0.5">※ p&lt;0.05 v.s. control</text>
<text class="j" x="603.5" y="447.0" font-size="9" text-anchor="start" letter-spacing="0.55">(Mean<tspan font-size="13" dx="0.6" dy="0.9">±</tspan><tspan dx="0.8" dy="-0.9">SEM)</tspan></text>
<text class="j" x="649.8" y="461" font-size="9" text-anchor="start">(N=8)</text>
</svg></body></html>
